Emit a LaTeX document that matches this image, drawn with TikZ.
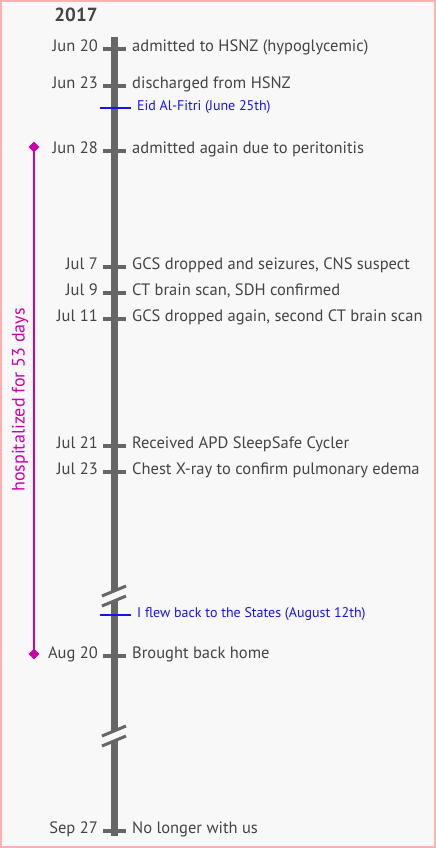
\documentclass[tikz,border=0pt]{standalone}
\usepackage{fontspec}
\setmainfont{PT Sans}
\usetikzlibrary{positioning,shapes.geometric}
\definecolor{barcol}{HTML}{666666}
\definecolor{textcol}{HTML}{444444}
\definecolor{hospcol}{HTML}{CC00AA}
\definecolor{notecol}{HTML}{1414F0}
\definecolor{bgcol}{HTML}{F8F8F8}
\definecolor{framecol}{HTML}{FFB0B0}
\tikzset{
  datelbl/.style={anchor=mid east, inner sep=0pt, text=textcol, font=\fontsize{16.5}{18}\selectfont},
  eventlbl/.style={anchor=mid west, inner sep=0pt, text=textcol, font=\fontsize{16.5}{18}\selectfont},
  notelbl/.style={anchor=mid west, inner sep=0pt, text=notecol, font=\fontsize{14}{16}\selectfont},
  barline/.style={draw=barcol, line width=7pt},
  tickline/.style={draw=barcol, line width=4pt},
  noteline/.style={draw=notecol, line width=1.2pt},
  slash/.style={draw=barcol, line width=3pt},
  hospline/.style={draw=hospcol, line width=2.5pt},
  hospend/.style={diamond, fill=hospcol, inner sep=0pt, minimum size=11pt}
}
\begin{document}
\begin{tikzpicture}[x=1pt, y=-1pt]
  % fond et cadre
  \draw[framecol, fill=bgcol, line width=2pt] (1,1) rectangle (435,847);
  \useasboundingbox (0,0) rectangle (436,848);

  \node[anchor=mid, inner sep=0pt, text=textcol, font=\fontsize{19}{21}\selectfont\bfseries] (year) at (76,19) {2017};

  % l'axe, coupe deux fois
  \coordinate (top) at (114,37);
  \coordinate (brkA) at (114,591);
  \coordinate (brkB) at (114,601);
  \coordinate (brkC) at (114,731);
  \coordinate (brkD) at (114,741);
  \coordinate (bottom) at (114,836);
  \draw[barline] (top) -- (brkA);
  \draw[barline] (brkB) -- (brkC);
  \draw[barline] (brkD) -- (bottom);
  \draw[slash] ([shift={(-12,5)}]brkA) -- ([shift={(12,-5)}]brkA);
  \draw[slash] ([shift={(-12,5)}]brkB) -- ([shift={(12,-5)}]brkB);
  \draw[slash] ([shift={(-12,5)}]brkC) -- ([shift={(12,-5)}]brkC);
  \draw[slash] ([shift={(-12,5)}]brkD) -- ([shift={(12,-5)}]brkD);

  % dates et evenements
  \node[datelbl] (jun20) at (98,49) {Jun 20};
  \node[eventlbl] (ev1) at (132,49) {admitted to HSNZ (hypoglycemic)};
  \node[datelbl] (jun23) at (98,86) {Jun 23};
  \node[eventlbl] (ev2) at (132,86) {discharged from HSNZ};
  \node[datelbl] (jun28) at (98,151) {Jun 28};
  \node[eventlbl] (ev3) at (132,151) {admitted again due to peritonitis};
  \node[datelbl] (jul7) at (98,267) {Jul 7};
  \node[eventlbl] (ev4) at (132,267) {GCS dropped and seizures, CNS suspect};
  \node[datelbl] (jul9) at (98,293) {Jul 9};
  \node[eventlbl] (ev5) at (132,293) {CT brain scan, SDH confirmed};
  \node[datelbl] (jul11) at (98,319) {Jul 11};
  \node[eventlbl] (ev6) at (132,319) {GCS dropped again, second CT brain scan};
  \node[datelbl] (jul21) at (98,446) {Jul 21};
  \node[eventlbl] (ev7) at (132,446) {Received APD SleepSafe Cycler};
  \node[datelbl] (jul23) at (98,472) {Jul 23};
  \node[eventlbl] (ev8) at (132,472) {Chest X-ray to confirm pulmonary edema};
  \node[datelbl] (aug20) at (98,656) {Aug 20};
  \node[eventlbl] (ev9) at (132,656) {Brought back home};
  \node[datelbl] (sep27) at (98,831) {Sep 27};
  \node[eventlbl] (ev10) at (132,831) {No longer with us};

  \foreach \d/\e in {jun20/ev1, jun23/ev2, jun28/ev3, jul7/ev4, jul9/ev5, jul11/ev6, jul21/ev7, jul23/ev8, aug20/ev9, sep27/ev10}
    \draw[tickline] ([xshift=5pt]\d.mid east) -- ([xshift=-6pt]\e.mid west);

  % notes personnelles
  \node[notelbl] (eid) at (137,108) {Eid Al-Fitri (June 25th)};
  \node[notelbl] (flew) at (137,615) {I flew back to the States (August 12th)};
  \coordinate (eidL) at (100,108);
  \coordinate (flewL) at (100,615);
  \draw[noteline] (eidL) -- ([xshift=-6pt]eid.mid west);
  \draw[noteline] (flewL) -- ([xshift=-6pt]flew.mid west);

  % sejour a l'hopital
  \node[hospend] (hospA) at (34,147) {};
  \node[hospend] (hospB) at (34,654) {};
  \draw[hospline] (hospA.center) -- (hospB.center);
  \node[rotate=90, inner sep=0pt, text=hospcol, font=\fontsize{18}{20}\selectfont] (hosplbl) at (20,400) {hospitalized for 53 days};
\end{tikzpicture}
\end{document}
